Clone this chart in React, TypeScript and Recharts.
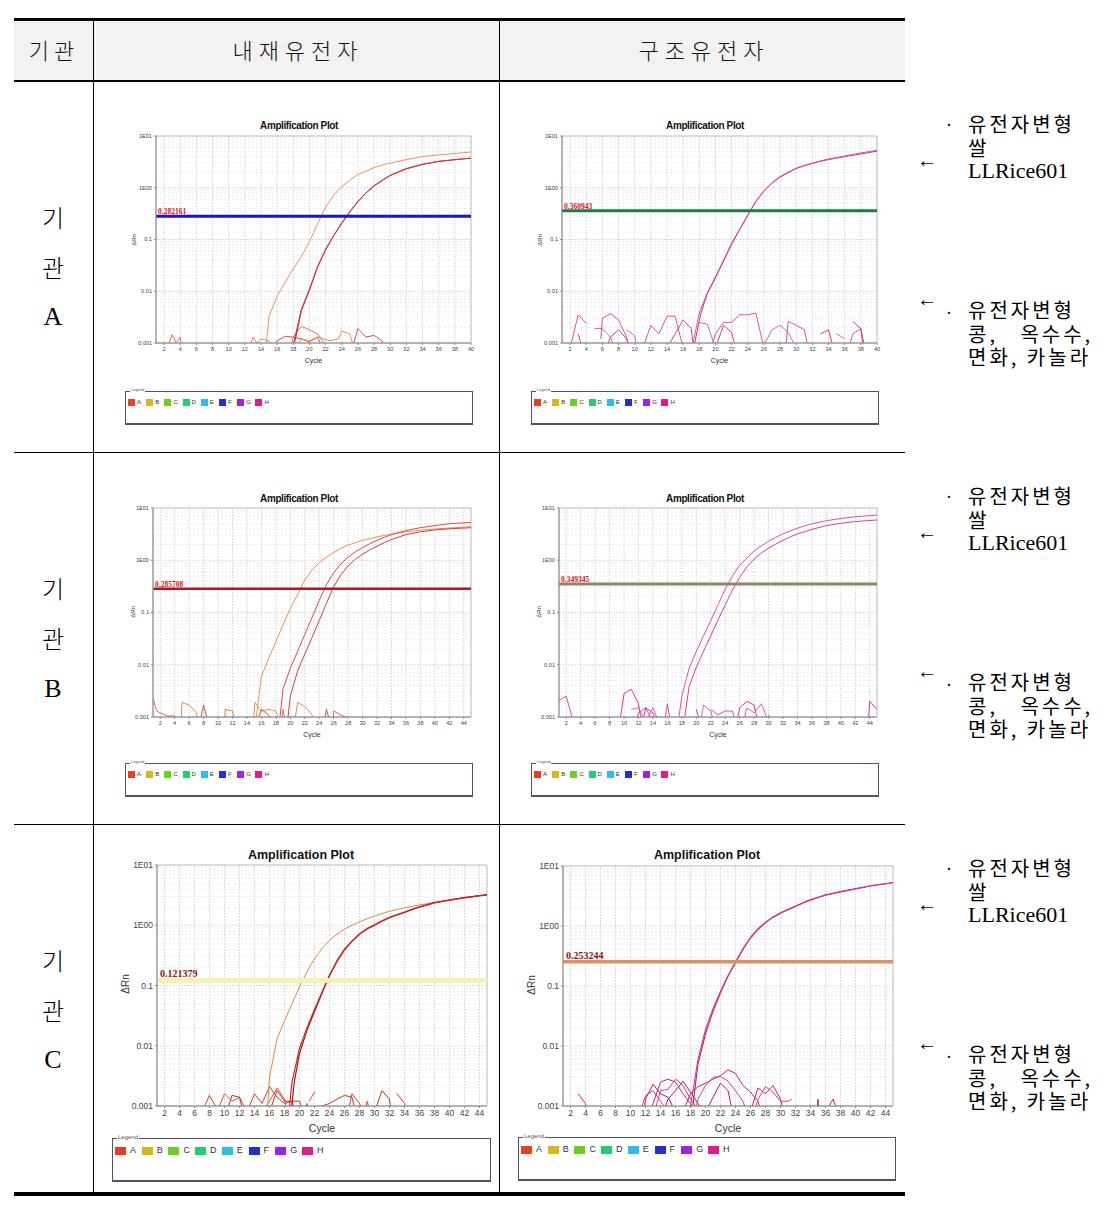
import React from 'react';
import { LineChart, Line, XAxis, YAxis, CartesianGrid, ReferenceLine, ReferenceArea } from 'recharts';

type Pt = [number, number];

// ---------- axis / tick data ----------
const Y_DOMAIN: [number, number] = [0.001, 10];
const Y_TICKS = [0.001, 0.01, 0.1, 1, 10];
const Y_TICK_LABELS = ['0.001', '0.01', '0.1', '1E00', '1E01'];
const Y_MINOR = [
  0.002, 0.003, 0.004, 0.005, 0.006, 0.007, 0.008, 0.009,
  0.02, 0.03, 0.04, 0.05, 0.06, 0.07, 0.08, 0.09,
  0.2, 0.3, 0.4, 0.5, 0.6, 0.7, 0.8, 0.9,
  2, 3, 4, 5, 6, 7, 8, 9,
];
const X_TICKS_40 = [2, 4, 6, 8, 10, 12, 14, 16, 18, 20, 22, 24, 26, 28, 30, 32, 34, 36, 38, 40];
const X_TICKS_45 = [2, 4, 6, 8, 10, 12, 14, 16, 18, 20, 22, 24, 26, 28, 30, 32, 34, 36, 38, 40, 42, 44];

const LEGEND_LABELS = ['A', 'B', 'C', 'D', 'E', 'F', 'G', 'H'];
const LEGEND_COLORS = ['#e8401c', '#d8b818', '#6cd020', '#20d070', '#28c0e8', '#2030d8', '#a020e8', '#e81888'];

const HEADERS = ['기관', '내재유전자', '구조유전자'];
const ROW_NAMES = ['A', 'B', 'C'];

// ---------- 기관 A : 내재유전자 ----------
const A_INT_ORANGE: Pt[] = [[14.6, 0.0008], [15, 0.0033], [16, 0.008], [17, 0.015], [18, 0.027], [19, 0.047], [20, 0.09], [21, 0.2], [22, 0.42], [23, 0.72], [24, 1.05], [25, 1.4], [26, 1.8], [27, 2.1], [28, 2.45], [29, 2.75], [30, 3.0], [32, 3.5], [34, 4.0], [36, 4.3], [38, 4.6], [40, 4.9]];
const A_INT_RED1: Pt[] = [[17.9, 0.0008], [18.3, 0.0015], [19, 0.0045], [20, 0.011], [21, 0.03], [22, 0.065], [23, 0.12], [24, 0.21], [25, 0.35], [26, 0.55], [27, 0.8], [28, 1.1], [29, 1.4], [30, 1.75], [32, 2.35], [34, 2.85], [36, 3.25], [38, 3.5], [40, 3.75]];
const A_INT_RED2: Pt[] = [[18.0, 0.0008], [18.4, 0.0015], [19, 0.0042], [20, 0.0105], [21, 0.029], [22, 0.063], [23, 0.118], [24, 0.205], [25, 0.34], [26, 0.54], [27, 0.79], [28, 1.08], [29, 1.38], [30, 1.72], [32, 2.32], [34, 2.82], [36, 3.22], [38, 3.48], [40, 3.72]];
const A_INT_NOISE: Pt[][] = [
  [[2.4, 0.0008], [3, 0.00145], [3.5, 0.001], [4, 0.0013], [4.2, 0.0008]],
  [[12.6, 0.0008], [13, 0.0013], [13.5, 0.001], [14, 0.0012], [15, 0.0011], [15.4, 0.0008]],
  [[15.8, 0.0008], [16, 0.0011], [17, 0.00135], [18, 0.0013], [19, 0.0012], [20, 0.00105], [21, 0.0013], [21.6, 0.0008]],
  [[17.6, 0.0008], [18, 0.0013], [18.5, 0.0017], [19, 0.0021], [20, 0.0018], [21, 0.0015], [22, 0.0009]],
  [[18.3, 0.0008], [19, 0.0012], [20, 0.0011], [21, 0.0013], [22.5, 0.0011], [23.6, 0.0012], [24, 0.0017], [25, 0.0015], [25.4, 0.0009]],
  [[25.4, 0.0009], [26, 0.0019], [27, 0.0013], [28, 0.0014], [29, 0.0011], [29.2, 0.0008]],
];

// ---------- 기관 A : 구조유전자 ----------
const A_STR_1: Pt[] = [[17.1, 0.0008], [18, 0.0038], [19, 0.0095], [20, 0.019], [21, 0.04], [22, 0.085], [23, 0.16], [24, 0.3], [25, 0.55], [26, 0.88], [27, 1.25], [28, 1.65], [29, 2.0], [30, 2.4], [31, 2.7], [32, 3.0], [33, 3.3], [34, 3.6], [36, 4.1], [38, 4.7], [40, 5.3]];
const A_STR_2: Pt[] = [[17.3, 0.0008], [18.2, 0.0038], [19, 0.009], [20, 0.018], [21, 0.038], [22, 0.08], [23, 0.155], [24, 0.29], [25, 0.54], [26, 0.86], [27, 1.22], [28, 1.6], [29, 1.95], [30, 2.35], [31, 2.65], [32, 2.95], [33, 3.25], [34, 3.5], [36, 4.0], [38, 4.5], [40, 5.1]];
const A_STR_NOISE: Pt[][] = [
  [[2, 0.0008], [3, 0.0035], [4, 0.0024]],
  [[3, 0.0015], [3.5, 0.0008]],
  [[5, 0.0019], [6, 0.0019], [7, 0.0013], [7.5, 0.0008]],
  [[5.8, 0.0012], [6, 0.003], [7, 0.0037], [8, 0.0028], [9, 0.0013], [9.3, 0.0008]],
  [[6.5, 0.0008], [7, 0.0013], [8, 0.0018], [9, 0.0012], [9.4, 0.0008]],
  [[9, 0.0018], [10, 0.0014], [10.3, 0.0008]],
  [[11, 0.0008], [12, 0.0022], [13, 0.0015], [14, 0.0033], [15, 0.0033], [16, 0.0008]],
  [[14, 0.0008], [15, 0.0015], [16, 0.0028], [17, 0.0019], [17.3, 0.0008]],
  [[18, 0.0025], [19, 0.0023], [20, 0.0008]],
  [[19.5, 0.0008], [20, 0.0015], [21, 0.0025], [22, 0.0025], [23, 0.0035], [24, 0.0035], [25, 0.0038], [26, 0.0008]],
  [[20, 0.0008], [21, 0.0022], [22, 0.0016], [22.5, 0.0008]],
  [[25.8, 0.0008], [27, 0.0018], [28, 0.0022], [29, 0.0016], [30, 0.0008]],
  [[28.7, 0.0008], [29, 0.0026], [30, 0.0022], [31, 0.0018], [31.5, 0.0008]],
  [[33, 0.0015], [34, 0.0018], [34.6, 0.0008]],
  [[35, 0.0015], [36, 0.0012]],
  [[36.5, 0.0008], [37, 0.0015], [38, 0.0019], [38.5, 0.0008]],
  [[37, 0.0026], [38, 0.0019], [38.3, 0.0008]],
];

// ---------- 기관 B : 내재유전자 ----------
const B_INT_ORANGE: Pt[] = [[15.2, 0.0008], [16, 0.006], [17, 0.013], [18, 0.028], [19, 0.058], [20, 0.12], [21, 0.22], [22, 0.42], [23, 0.65], [24, 0.9], [25, 1.15], [26, 1.4], [27, 1.7], [28, 1.95], [29, 2.18], [30, 2.4], [31, 2.6], [32, 2.8], [33, 2.98], [34, 3.15], [36, 3.5], [38, 3.75], [40, 3.95], [42, 4.15], [45, 4.4]];
const B_INT_RED1: Pt[] = [[18.5, 0.0008], [19, 0.0035], [20, 0.0085], [21, 0.018], [22, 0.038], [23, 0.08], [24, 0.17], [25, 0.34], [26, 0.58], [27, 0.85], [28, 1.15], [29, 1.45], [30, 1.75], [31, 2.08], [32, 2.4], [33, 2.75], [34, 3.1], [36, 3.7], [38, 4.2], [40, 4.6], [42, 5.0], [45, 5.3]];
const B_INT_RED2: Pt[] = [[19.6, 0.0008], [20, 0.0025], [21, 0.0075], [22, 0.016], [23, 0.033], [24, 0.07], [25, 0.15], [26, 0.31], [27, 0.53], [28, 0.78], [29, 1.05], [30, 1.3], [31, 1.58], [32, 1.85], [33, 2.18], [34, 2.5], [36, 3.1], [38, 3.5], [40, 3.8], [42, 4.0], [45, 4.2]];
const B_INT_NOISE: Pt[][] = [
  [[1, 0.0023], [1.5, 0.0013], [2, 0.0012], [3, 0.00105], [4, 0.00105], [4.3, 0.0008]],
  [[4.9, 0.0008], [5, 0.0019], [6, 0.0017], [7, 0.0012], [7.2, 0.0008]],
  [[7.5, 0.0008], [8, 0.0017], [8.6, 0.0008]],
  [[10.9, 0.0008], [11, 0.0014], [12, 0.0013], [12.3, 0.0008]],
  [[14.9, 0.0008], [15.1, 0.0019], [16, 0.0013], [17, 0.0014], [18, 0.0013], [18.5, 0.0008]],
  [[15.4, 0.0008], [16, 0.0014], [17, 0.0011], [17.5, 0.0008]],
  [[18.8, 0.0008], [19, 0.0014], [19.3, 0.0008]],
  [[20.6, 0.0008], [21, 0.0019], [22, 0.0016], [23, 0.0011], [23.2, 0.0008]],
  [[24.7, 0.0008], [25, 0.0014], [25.5, 0.0008]],
  [[25.9, 0.0008], [26, 0.0013], [27, 0.0011], [28, 0.00095], [28.3, 0.0008]],
];

// ---------- 기관 B : 구조유전자 ----------
const B_STR_1: Pt[] = [[17.5, 0.0008], [18, 0.0025], [19, 0.0085], [20, 0.018], [21, 0.036], [22, 0.07], [23, 0.14], [24, 0.28], [25, 0.5], [26, 0.8], [27, 1.1], [28, 1.5], [29, 1.9], [30, 2.3], [31, 2.75], [32, 3.2], [33, 3.65], [34, 4.1], [36, 5.0], [38, 5.7], [40, 6.3], [42, 6.8], [45, 7.3]];
const B_STR_2: Pt[] = [[18.3, 0.0008], [19, 0.0038], [20, 0.009], [21, 0.018], [22, 0.036], [23, 0.072], [24, 0.14], [25, 0.27], [26, 0.47], [27, 0.75], [28, 1.05], [29, 1.38], [30, 1.7], [31, 2.05], [32, 2.4], [33, 2.8], [34, 3.2], [36, 3.9], [38, 4.6], [40, 5.1], [42, 5.5], [45, 5.9]];
const B_STR_NOISE: Pt[][] = [
  [[1, 0.0021], [2, 0.0025], [3, 0.0008]],
  [[9.4, 0.0008], [10, 0.0028], [11, 0.0034], [12, 0.0018], [12.4, 0.0008]],
  [[11, 0.0014], [12, 0.0015], [13, 0.0008]],
  [[11.6, 0.0008], [12, 0.0012], [13, 0.0015], [14, 0.0008]],
  [[12.6, 0.0008], [13, 0.0015], [14, 0.0012], [14.5, 0.0008]],
  [[13, 0.0008], [14, 0.0015], [14.8, 0.0008]],
  [[15.6, 0.0008], [16, 0.0018], [16.4, 0.0008]],
  [[20, 0.0014], [20.5, 0.0008]],
  [[20.6, 0.0008], [21, 0.0017], [22, 0.0013], [22.4, 0.0008]],
  [[22, 0.0014], [23, 0.0011], [24, 0.0013], [25, 0.0013], [25.4, 0.0008]],
  [[25.6, 0.0008], [26, 0.0015], [27, 0.002], [28, 0.0017], [28.5, 0.0008]],
  [[26.5, 0.0008], [27, 0.0015], [28, 0.0012], [29, 0.0018], [30, 0.0008]],
  [[30, 0.0011], [30.5, 0.0008]],
  [[43.8, 0.0008], [44, 0.002], [45, 0.0014]],
];

// ---------- 기관 C : 내재유전자 ----------
const C_INT_ORANGE: Pt[] = [[15.7, 0.0008], [16, 0.003], [17, 0.013], [18, 0.026], [19, 0.05], [20, 0.095], [21, 0.17], [22, 0.28], [23, 0.41], [24, 0.56], [25, 0.71], [26, 0.86], [27, 1.0], [28, 1.14], [29, 1.28], [30, 1.42], [31, 1.56], [32, 1.7], [33, 1.83], [34, 1.95], [36, 2.17], [38, 2.4], [40, 2.65], [42, 2.9], [45, 3.2]];
const C_INT_RED1: Pt[] = [[18.6, 0.0008], [19, 0.0025], [20, 0.009], [21, 0.02], [22, 0.04], [23, 0.078], [24, 0.15], [25, 0.26], [26, 0.4], [27, 0.55], [28, 0.72], [29, 0.88], [30, 1.02], [31, 1.19], [32, 1.35], [33, 1.5], [34, 1.65], [35, 1.83], [36, 2.0], [38, 2.35], [40, 2.6], [42, 2.85], [45, 3.2]];
const C_INT_RED2: Pt[] = [[18.9, 0.0008], [19.3, 0.0025], [20, 0.0075], [21, 0.018], [22, 0.037], [23, 0.074], [24, 0.145], [25, 0.25], [26, 0.39], [27, 0.54], [28, 0.71], [29, 0.87], [30, 1.0], [31, 1.17], [32, 1.33], [33, 1.48], [34, 1.63], [35, 1.83], [36, 2.02], [38, 2.38], [40, 2.62], [42, 2.88], [45, 3.22]];
const C_INT_NOISE: Pt[][] = [
  [[7, 0.0008], [8, 0.0015], [9, 0.0009]],
  [[9, 0.0008], [10, 0.0016], [11, 0.0012], [12, 0.0014], [13, 0.0008]],
  [[10.3, 0.0008], [11, 0.0015], [12, 0.0014], [12.5, 0.0008]],
  [[13, 0.0008], [14, 0.0016], [15, 0.0011], [16, 0.0021], [17, 0.0014], [18, 0.0011], [19, 0.0012], [19.4, 0.0008]],
  [[15, 0.0008], [16, 0.0012], [17, 0.002], [18, 0.0013], [18.4, 0.0008]],
  [[16, 0.0008], [17, 0.0018], [18, 0.0012], [19, 0.0012], [20, 0.0012], [20.5, 0.0008]],
  [[20.5, 0.0008], [21, 0.0011], [21.2, 0.0008]],
  [[21.3, 0.0012], [22, 0.0017]],
  [[23, 0.001], [24, 0.0011], [25, 0.0013], [26, 0.0015], [27, 0.0014], [27.5, 0.0008]],
  [[26.5, 0.0008], [27, 0.0016], [28, 0.0011], [28.5, 0.0008]],
  [[28.8, 0.0008], [29, 0.0012], [29.5, 0.0008]],
  [[30, 0.0008], [31, 0.0018], [32, 0.0013], [32.2, 0.0008]],
  [[33, 0.0016], [34, 0.0011], [34.3, 0.0008]],
];

// ---------- 기관 C : 구조유전자 ----------
const C_STR_1: Pt[] = [[17.9, 0.0008], [18, 0.001], [19, 0.006], [20, 0.019], [21, 0.042], [22, 0.082], [23, 0.15], [24, 0.25], [25, 0.42], [26, 0.65], [27, 0.9], [28, 1.16], [29, 1.42], [30, 1.66], [31, 1.9], [32, 2.15], [33, 2.45], [34, 2.75], [35, 3.02], [36, 3.3], [38, 3.75], [40, 4.2], [42, 4.7], [45, 5.3]];
const C_STR_2: Pt[] = [[18.2, 0.0008], [19, 0.005], [20, 0.016], [21, 0.038], [22, 0.077], [23, 0.145], [24, 0.245], [25, 0.41], [26, 0.63], [27, 0.88], [28, 1.14], [29, 1.39], [30, 1.63], [31, 1.87], [32, 2.12], [33, 2.41], [34, 2.7], [35, 2.98], [36, 3.25], [38, 3.7], [40, 4.15], [42, 4.65], [45, 5.25]];
const C_STR_NOISE: Pt[][] = [
  [[3, 0.0016], [4, 0.0011], [4.2, 0.0008]],
  [[11.3, 0.0008], [12, 0.0015], [13, 0.0018], [14, 0.0012], [15, 0.0008]],
  [[11.8, 0.0008], [12, 0.0013], [13, 0.0023], [14, 0.0016], [15, 0.0014], [16, 0.0008]],
  [[12.5, 0.0008], [13, 0.0011], [14, 0.0025], [15, 0.0028], [16, 0.0025], [17, 0.0016], [18, 0.0011], [18.5, 0.0008]],
  [[13.2, 0.0008], [14, 0.0018], [15, 0.0019], [16, 0.0028], [17, 0.0022], [18, 0.0013], [19, 0.0009], [19.2, 0.0008]],
  [[14.4, 0.0008], [15, 0.0013], [16, 0.0018], [17, 0.0026], [18, 0.0017], [19, 0.0011], [19.6, 0.0008]],
  [[17, 0.0008], [18, 0.0016], [19, 0.0021], [20, 0.0024], [21, 0.0028], [22, 0.0032], [23, 0.004], [24, 0.0035], [25, 0.0022], [26, 0.0017], [27, 0.0012], [27.4, 0.0008]],
  [[18.6, 0.0008], [19, 0.0013], [20, 0.0022], [21, 0.003], [22, 0.0031], [23, 0.0026], [24, 0.0018], [25, 0.0012], [25.5, 0.0008]],
  [[20, 0.0008], [21, 0.0014], [22, 0.0024], [23, 0.0018], [23.6, 0.0008]],
  [[26, 0.0008], [27, 0.002], [28, 0.0016], [29, 0.0022], [30, 0.0013], [30.4, 0.0008]],
  [[26.5, 0.0008], [27, 0.0013], [28, 0.0021], [29, 0.0017], [30, 0.0012], [31, 0.0012], [31.5, 0.0013]],
  [[34.9, 0.0008], [35, 0.0013], [35.1, 0.0008]],
  [[36.5, 0.001], [37, 0.0013], [37.5, 0.0009], [38, 0.0008]],
];

const THRESHOLDS = [0.282161, 0.360943, 0.285708, 0.349345, 0.121379, 0.253244];
const THRESHOLD_LABELS = ['0.282161', '0.360943', '0.285708', '0.349345', '0.121379', '0.253244'];

const NOTE_1 = ['유전자변형', '쌀', 'LLRice601'];
const NOTE_2 = ['유전자변형', '콩,   옥수수,', '면화, 카놀라'];

// ---------- components ----------
type Series = { data: Pt[]; color: string; width: number };

type PlotProps = {
  px: number; py: number; pw: number; ph: number;
  xMax: number; xTicks: number[];
  series: Series[];
  thr: number; thrLabel: string; thrColor: string; thrWidth: number; thrLabelColor: string;
  big?: boolean;
  titleX: number; titleY: number;
  rnX: number; rnY: number;
  legend: { x: number; y: number; w: number; h: number };
};

const SANS = '"Liberation Sans", Arial, sans-serif';
const KR = '"Noto Sans CJK KR", sans-serif';
const SERIF = '"Liberation Serif", "Times New Roman", serif';

function Legend({ x, y, w, h, big }: { x: number; y: number; w: number; h: number; big?: boolean }) {
  const step = big ? 26.7 : 18.2;
  const sw = big ? 11 : 7;
  const sh = big ? 8 : 7;
  const fs = big ? 9 : 6;
  return (
    <div style={{ position: 'absolute', left: x, top: y, width: w, height: h, border: '1px solid #4a5668', boxSizing: 'border-box', borderBottomWidth: 2 }}>
      <div style={{ position: 'absolute', left: 4, top: big ? -5 : -4, fontSize: big ? 6 : 4, fontFamily: SANS, background: '#fff', color: '#555', lineHeight: 1, padding: '0 1px' }}>Legend</div>
      {LEGEND_LABELS.map((lab, i) => (
        <div key={lab} style={{ position: 'absolute', left: 2 + i * step, top: big ? 7 : 6.5, display: 'flex', alignItems: 'center' }}>
          <div style={{ width: sw, height: sh, background: LEGEND_COLORS[i] }} />
          <div style={{ marginLeft: big ? 4 : 2, fontSize: fs, fontFamily: SANS, color: '#333', lineHeight: 1 }}>{lab}</div>
        </div>
      ))}
    </div>
  );
}

function AmpPlot(p: PlotProps) {
  const yW = p.big ? 32 : 24;
  const xH = p.big ? 29 : 23;
  const m = { top: 4, right: 4, left: 2, bottom: 0 };
  const W = m.left + yW + p.pw + m.right;
  const H = m.top + p.ph + xH;
  const left = p.px - yW - m.left;
  const top = p.py - m.top;
  const tickFs = p.big ? 8.5 : 5.6;
  const labelFs = p.big ? 10.5 : 7;
  return (
    <>
      <div style={{ position: 'absolute', left: p.titleX - 100, top: p.titleY - 8, width: 200, textAlign: 'center', fontFamily: SANS, fontWeight: 'bold', fontSize: p.big ? 12.5 : 10, lineHeight: '16px', letterSpacing: p.big ? 0 : -0.4, color: '#111' }}>
        Amplification Plot
      </div>
      <div style={{ position: 'absolute', left: p.rnX - 20, top: p.rnY - 6, width: 40, height: 12, lineHeight: '12px', textAlign: 'center', transform: 'rotate(-90deg)', fontFamily: SANS, fontSize: p.big ? 10 : 6, color: '#333' }}>
        ΔRn
      </div>
      <div style={{ position: 'absolute', left, top, width: W, height: H }}>
        <LineChart width={W} height={H} margin={m}>
          <CartesianGrid stroke="#dcdcdc" strokeDasharray="2 1" />
          {Y_MINOR.map((v) => (
            <ReferenceLine key={v} y={v} stroke="#e6e6e6" strokeDasharray="2 2" strokeWidth={0.8} />
          ))}
          <ReferenceArea x1={1} x2={p.xMax} y1={Y_DOMAIN[0]} y2={Y_DOMAIN[1]} fill="none" stroke="#c4c4c4" strokeWidth={1} />
          <XAxis
            type="number"
            dataKey="c"
            domain={[1, p.xMax]}
            ticks={p.xTicks}
            allowDataOverflow
            interval={0}
            tickSize={2}
            stroke="#8a8a8a"
            tick={{ fontSize: tickFs, fontFamily: SANS, fill: '#444' }}
            height={xH}
            label={{ value: 'Cycle', position: 'insideBottom', offset: 3, fontSize: labelFs, fontFamily: SANS, fill: '#333' }}
          />
          <YAxis
            type="number"
            scale="log"
            domain={Y_DOMAIN}
            ticks={Y_TICKS}
            allowDataOverflow
            interval={0}
            width={yW}
            tickSize={2}
            stroke="#8a8a8a"
            tick={{ fontSize: tickFs, fontFamily: SANS, fill: '#444' }}
            tickFormatter={(v: number) => {
              const i = Y_TICKS.findIndex((t) => Math.abs(t - v) / t < 1e-6);
              return i >= 0 ? Y_TICK_LABELS[i] : String(v);
            }}
          />
          {p.series.map((s, i) => (
            <Line
              key={i}
              data={s.data.map(([c, v]) => ({ c, v }))}
              dataKey="v"
              type="linear"
              stroke={s.color}
              strokeWidth={s.width}
              dot={false}
              activeDot={false}
              isAnimationActive={false}
            />
          ))}
          <ReferenceLine
            y={p.thr}
            stroke={p.thrColor}
            strokeWidth={p.thrWidth}
            label={{ value: p.thrLabel, position: 'insideBottomLeft', offset: p.big ? 3 : 2, fill: p.thrLabelColor, fontSize: p.big ? 10 : 7.5, fontFamily: SERIF, fontWeight: 'bold' }}
          />
        </LineChart>
      </div>
      <Legend x={p.legend.x} y={p.legend.y} w={p.legend.w} h={p.legend.h} big={p.big} />
    </>
  );
}

function noiseSeries(list: Pt[][], colors: string[], width: number): Series[] {
  return list.map((d, i) => ({ data: d, color: colors[i % colors.length], width }));
}

function Note({ x, y, lines, arrowY, dotY }: { x: number; y: number; lines: string[]; arrowY: number; dotY: number }) {
  return (
    <>
      <div style={{ position: 'absolute', left: 917, top: arrowY - 11, fontSize: 20, lineHeight: '22px', fontFamily: SERIF, color: '#000' }}>←</div>
      <div style={{ position: 'absolute', left: 946, top: dotY - 11, fontSize: 18, lineHeight: '22px', fontFamily: SERIF, color: '#000' }}>·</div>
      <div style={{ position: 'absolute', left: x, top: y - 11.65, lineHeight: '23.3px', whiteSpace: 'pre', color: '#000' }}>
        {lines.map((t, i) => {
          const latin = /[A-Za-z]/.test(t);
          return (
            <div key={i} style={{ height: 23.3, fontSize: latin ? 22 : 20, letterSpacing: latin ? 0 : 3, fontFamily: latin ? SERIF : KR }}>{t}</div>
          );
        })}
      </div>
    </>
  );
}

export default function App() {
  const magenta = ['#d83c98', '#c8287c', '#e04ca8'];
  const orangeNoise = ['#e8603c', '#e08048', '#d04030'];
  const rowTops = [81, 452, 824];
  const cellCenterY = [[217, 267, 317], [588, 638, 689], [960, 1010, 1060]];

  return (
    <div style={{ position: 'absolute', left: 0, top: 0, width: 1115, height: 1210, background: '#fff', overflow: 'hidden' }}>
      {/* table frame */}
      <div style={{ position: 'absolute', left: 14, top: 21, width: 891, height: 60, background: '#f2f2f2' }} />
      <div style={{ position: 'absolute', left: 14, top: 18, width: 891, height: 3, background: '#000' }} />
      <div style={{ position: 'absolute', left: 14, top: 80, width: 891, height: 1.5, background: '#000' }} />
      <div style={{ position: 'absolute', left: 14, top: rowTops[1], width: 891, height: 1, background: '#000' }} />
      <div style={{ position: 'absolute', left: 14, top: rowTops[2], width: 891, height: 1, background: '#000' }} />
      <div style={{ position: 'absolute', left: 14, top: 1192, width: 891, height: 4, background: '#000' }} />
      <div style={{ position: 'absolute', left: 93, top: 21, width: 1, height: 1171, background: '#000' }} />
      <div style={{ position: 'absolute', left: 499, top: 21, width: 1, height: 1171, background: '#000' }} />

      {/* header */}
      {[54, 298, 704].map((cx, i) => (
        <div key={i} style={{ position: 'absolute', left: cx - 120, top: 35, width: 240, textAlign: 'center', fontFamily: KR, fontSize: 22, lineHeight: '28px', letterSpacing: i === 0 ? 5 : 6, color: '#111', fontWeight: 300 }}>
          {HEADERS[i]}
        </div>
      ))}

      {/* left column labels */}
      {ROW_NAMES.map((r, ri) => (
        <React.Fragment key={r}>
          {['기', '관', r].map((ch, k) => (
            <div key={k} style={{ position: 'absolute', left: 33, top: cellCenterY[ri][k] - 15, width: 40, textAlign: 'center', fontFamily: k === 2 ? SERIF : KR, fontSize: k === 2 ? 26 : 24, lineHeight: '30px', color: '#000', fontWeight: k === 2 ? 400 : 300 }}>
              {ch}
            </div>
          ))}
        </React.Fragment>
      ))}

      {/* Row A */}
      <AmpPlot px={156} py={136} pw={315} ph={207} xMax={40} xTicks={X_TICKS_40}
        series={[
          ...noiseSeries(A_INT_NOISE, orangeNoise, 0.9),
          { data: A_INT_ORANGE, color: '#f09060', width: 1 },
          { data: A_INT_RED2, color: '#b81c30', width: 1 },
          { data: A_INT_RED1, color: '#d83848', width: 1 },
        ]}
        thr={THRESHOLDS[0]} thrLabel={THRESHOLD_LABELS[0]} thrColor="#1414e0" thrWidth={3} thrLabelColor="#e01010"
        titleX={299} titleY={126} rnX={134} rnY={240}
        legend={{ x: 125, y: 391, w: 348, h: 34 }} />
      <AmpPlot px={562} py={136} pw={315} ph={207} xMax={40} xTicks={X_TICKS_40}
        series={[
          ...noiseSeries(A_STR_NOISE, magenta, 0.9),
          { data: A_STR_2, color: '#c8308a', width: 1 },
          { data: A_STR_1, color: '#e050a8', width: 1 },
        ]}
        thr={THRESHOLDS[1]} thrLabel={THRESHOLD_LABELS[1]} thrColor="#148048" thrWidth={3} thrLabelColor="#e01010"
        titleX={705} titleY={126} rnX={540} rnY={240}
        legend={{ x: 531, y: 391, w: 348, h: 34 }} />

      {/* Row B */}
      <AmpPlot px={153} py={508} pw={318} ph={209} xMax={45} xTicks={X_TICKS_45}
        series={[
          ...noiseSeries(B_INT_NOISE, orangeNoise, 0.9),
          { data: B_INT_ORANGE, color: '#f0904c', width: 1 },
          { data: B_INT_RED2, color: '#d83c44', width: 1 },
          { data: B_INT_RED1, color: '#e04848', width: 1 },
        ]}
        thr={THRESHOLDS[2]} thrLabel={THRESHOLD_LABELS[2]} thrColor="#b81420" thrWidth={2.5} thrLabelColor="#e01010"
        titleX={299} titleY={499} rnX={133} rnY={612}
        legend={{ x: 125, y: 763, w: 348, h: 34 }} />
      <AmpPlot px={559} py={508} pw={318} ph={209} xMax={45} xTicks={X_TICKS_45}
        series={[
          ...noiseSeries(B_STR_NOISE, magenta, 0.9),
          { data: B_STR_1, color: '#e050a8', width: 1 },
          { data: B_STR_2, color: '#d84098', width: 1 },
        ]}
        thr={THRESHOLDS[3]} thrLabel={THRESHOLD_LABELS[3]} thrColor="#8c8468" thrWidth={3} thrLabelColor="#e01010"
        titleX={705} titleY={499} rnX={539} rnY={612}
        legend={{ x: 531, y: 763, w: 348, h: 34 }} />

      {/* Row C */}
      <AmpPlot big px={157} py={865} pw={330} ph={241} xMax={45} xTicks={X_TICKS_45}
        series={[
          ...noiseSeries(C_INT_NOISE, ['#d83c2c', '#e05030', '#c83020'], 1),
          { data: C_INT_ORANGE, color: '#e8883c', width: 1 },
          { data: C_INT_RED2, color: '#a81414', width: 1.2 },
          { data: C_INT_RED1, color: '#d02a20', width: 1.2 },
        ]}
        thr={THRESHOLDS[4]} thrLabel={THRESHOLD_LABELS[4]} thrColor="#f6f2b4" thrWidth={5} thrLabelColor="#9a1010"
        titleX={301} titleY={855} rnX={126} rnY={984}
        legend={{ x: 112, y: 1138, w: 379, h: 44 }} />
      <AmpPlot big px={563} py={866} pw={330} ph={240} xMax={45} xTicks={X_TICKS_45}
        series={[
          ...noiseSeries(C_STR_NOISE, ['#c82070', '#d83c90', '#b81860'], 1),
          { data: C_STR_2, color: '#b82070', width: 1.1 },
          { data: C_STR_1, color: '#d43c94', width: 1.1 },
        ]}
        thr={THRESHOLDS[5]} thrLabel={THRESHOLD_LABELS[5]} thrColor="#e09060" thrWidth={3.5} thrLabelColor="#a01010"
        titleX={707} titleY={855} rnX={532} rnY={985}
        legend={{ x: 518, y: 1137, w: 378, h: 44 }} />

      {/* right-side notes */}
      {[0, 372, 744].map((dy, i) => (
        <React.Fragment key={i}>
          <Note x={968} y={124 + dy} lines={NOTE_1} arrowY={160 + dy} dotY={125 + dy} />
          <Note x={968} y={310 + dy} lines={NOTE_2} arrowY={299 + dy} dotY={313 + dy} />
        </React.Fragment>
      ))}
    </div>
  );
}
